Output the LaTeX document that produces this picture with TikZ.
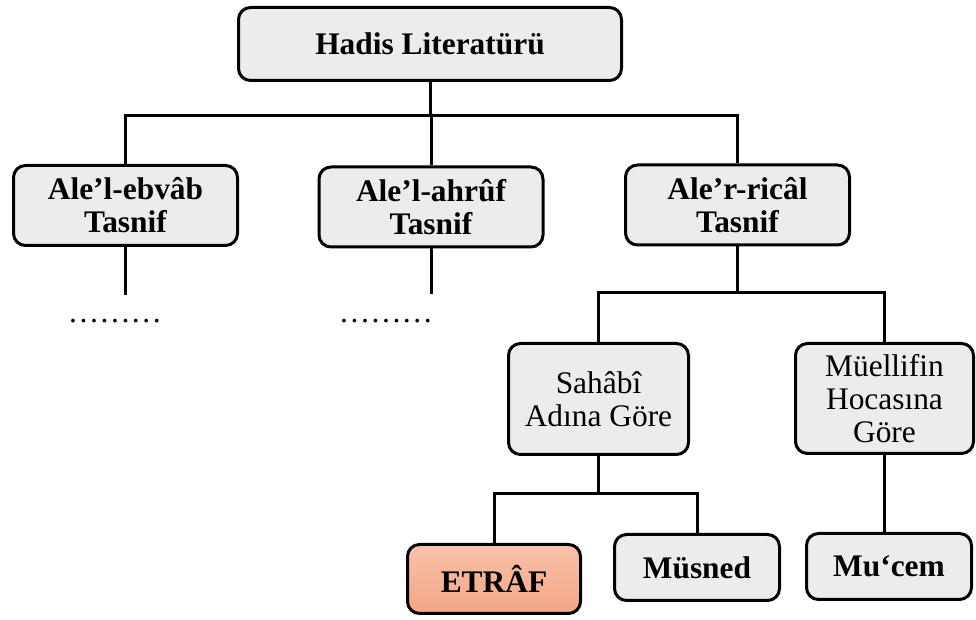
\documentclass[tikz,border=0pt]{standalone}
\usepackage{fontspec}
\setmainfont{Liberation Serif}
\definecolor{boxgray}{RGB}{236,236,236}
\definecolor{etraftop}{RGB}{247,194,170}
\definecolor{etrafbot}{RGB}{244,166,132}

\begin{document}
\begin{tikzpicture}[x=0.5pt, y=-0.5pt,
    box/.style={draw, line width=1.5pt, rounded corners=6pt, fill=boxgray,
      align=center, inner sep=2pt, font=\fontsize{15.7}{16.5}\selectfont\bfseries},
    plainbox/.style={box, font=\fontsize{15.7}{16.5}\selectfont},
    link/.style={line width=1.5pt}]

      \useasboundingbox (0,0) rectangle (976,620);

      \node[box, minimum width=191.5pt, minimum height=36.5pt] (lit) at (430,44) {Hadis Literatürü};

      \node[box, minimum width=112pt, minimum height=40pt] (ebvab) at (125.5,205.5) {Ale’l-ebvâb\\Tasnif};
      \node[box, minimum width=112pt, minimum height=40pt] (ahruf) at (431,207) {Ale’l-ahrûf\\Tasnif};
      \node[box, minimum width=112pt, minimum height=40pt] (rical) at (737.5,205) {Ale’r-ricâl\\Tasnif};

      \node[anchor=base, font=\fontsize{15.7}{16.5}\selectfont] (dotsA) at (115,323) {………};
      \node[anchor=base, font=\fontsize{15.7}{16.5}\selectfont] (dotsB) at (386,323) {………};

      \node[plainbox, minimum width=90pt, minimum height=55.5pt] (sahabi) at (598.5,399) {Sahâbî\\Adına Göre};
      \node[plainbox, minimum width=89pt, minimum height=55pt] (muellif) at (884.5,398.5) {Müellifin\\Hocasına\\Göre};

      \node[box, top color=etraftop, bottom color=etrafbot, minimum width=86.5pt, minimum height=34.5pt] (etraf) at (494,579) {ETRÂF};
      \node[box, minimum width=82.5pt, minimum height=33pt] (musned) at (697,567.5) {Müsned};
      \node[box, minimum width=82.5pt, minimum height=33pt] (mucem) at (889,566.5) {Mu‘cem};

      \coordinate (bus1) at (0,116);
      \coordinate (bus2) at (0,293);
      \coordinate (bus3) at (0,494);

      \draw[link] (lit.south) -- (lit.south |- bus1);
      \draw[link] (ebvab.north) |- (rical.north |- bus1) -- (rical.north);
      \draw[link] (ahruf.north) -- (ahruf.north |- bus1);

      \draw[link] (ebvab.south) -- ++(0,48);
      \draw[link] (ahruf.south) -- ++(0,46);

      \draw[link] (rical.south) -- (rical.south |- bus2);
      \draw[link] (sahabi.north) |- (muellif.north |- bus2) -- (muellif.north);

      \draw[link] (sahabi.south) -- (sahabi.south |- bus3);
      \draw[link] (etraf.north) |- (musned.north |- bus3) -- (musned.north);
      \draw[link] (muellif.south) -- (muellif.south |- mucem.north);

    \end{tikzpicture}
\end{document}
